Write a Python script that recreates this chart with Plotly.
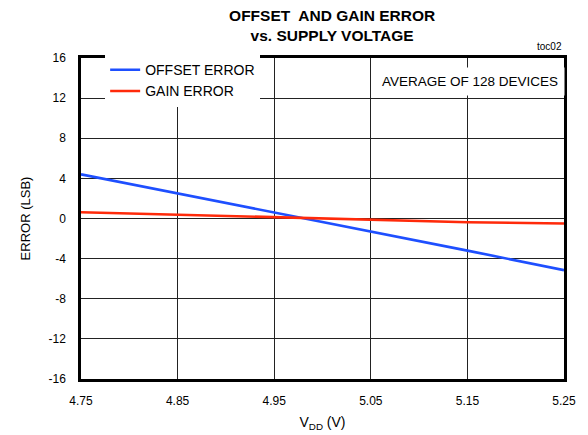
import plotly.graph_objects as go

vdd = [4.75, 4.85, 4.95, 5.05, 5.15, 5.25]
offset_error = [4.4, 2.5, 0.63, -1.27, -3.2, -5.15]
gain_error = [0.63, 0.37, 0.1, -0.17, -0.37, -0.5]
x_ticks = [4.75, 4.85, 4.95, 5.05, 5.15, 5.25]
y_ticks = [-16, -12, -8, -4, 0, 4, 8, 12, 16]

FONT = "Liberation Sans, Arial"

fig = go.Figure()
fig.add_trace(go.Scatter(x=vdd, y=offset_error, mode="lines", name="OFFSET ERROR",
                         line=dict(color="#1E4FFF", width=2.6)))
fig.add_trace(go.Scatter(x=vdd, y=gain_error, mode="lines", name="GAIN ERROR",
                         line=dict(color="#FF2A0A", width=2.6)))

fig.update_layout(
    width=580, height=427,
    margin=dict(l=73, r=24, t=50, b=56, autoexpand=False),
    paper_bgcolor="white", plot_bgcolor="white",
    font=dict(family=FONT, size=12, color="black"),
    title=dict(text="<b>OFFSET  AND GAIN ERROR<br>vs. SUPPLY VOLTAGE</b>",
               xref="paper", x=0.52, xanchor="center", y=0.970, yanchor="top",
               font=dict(family=FONT, size=15.5, color="black")),
    showlegend=True,
    legend=dict(x=0.05, y=1.012, xanchor="left", yanchor="top",
                bgcolor="white", borderwidth=0, font=dict(family=FONT, size=14),
                tracegroupgap=0, itemwidth=30),
    xaxis=dict(range=[4.75, 5.25], tickvals=x_ticks, ticktext=[f"{v:.2f}" for v in x_ticks],
               showgrid=True, gridcolor="#222", gridwidth=1, zeroline=False,
               showline=True, linecolor="black", linewidth=2.5, mirror=True,
               ticks="", ticklabelstandoff=9, automargin=False,
               title=dict(text="V<sub>DD</sub> (V)", standoff=11, font=dict(size=14))),
    yaxis=dict(range=[-16, 16], tickvals=y_ticks, ticktext=[str(v) for v in y_ticks],
               showgrid=True, gridcolor="#222", gridwidth=1, zeroline=False,
               showline=True, linecolor="black", linewidth=2.5, mirror=True,
               ticks="", ticklabelstandoff=10, automargin=False,
               title=dict(text="ERROR (LSB)", standoff=15, font=dict(size=13))),
)

fig.add_annotation(text="AVERAGE OF 128 DEVICES", xref="paper", yref="paper",
                   x=1.0015, y=0.927, xanchor="right", yanchor="middle", showarrow=False,
                   bgcolor="white", font=dict(family=FONT, size=13.5), borderpad=6)
fig.add_annotation(text="toc02", xref="paper", yref="paper",
                   x=1.0, y=1.0125, xanchor="right", yanchor="bottom", showarrow=False,
                   font=dict(family=FONT, size=10))

fig.write_html("out.html")
